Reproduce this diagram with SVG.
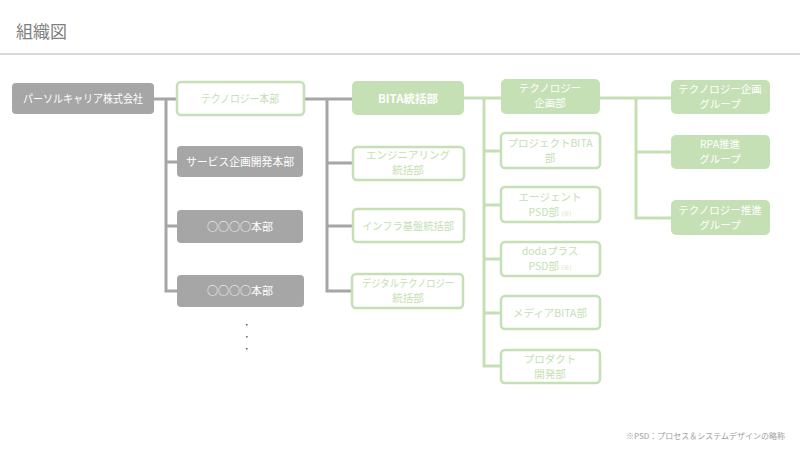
<svg xmlns="http://www.w3.org/2000/svg" width="800" height="450" viewBox="0 0 800 450">
<style>
text{font-family:"Noto Sans CJK JP","Noto Sans",sans-serif;text-anchor:middle}
.g rect{fill:#a6a6a6}
.g text{fill:#ffffff;font-size:11px}
.o rect{fill:#ffffff;stroke:#c5e0b4;stroke-width:2.5}
.o text{fill:#c5e0b4;font-size:10.5px}
.f rect{fill:#c5e0b4}
.f text{fill:#ffffff;font-size:10.5px}
.cg{fill:none;stroke:#a6a6a6;stroke-width:3}
.cn{fill:none;stroke:#c5e0b4;stroke-width:3}
.sm{font-size:6px}
</style>
<rect width="800" height="450" fill="#ffffff"/>
<text x="16" y="38" style="font-size:17px;fill:#7f7f7f;text-anchor:start">組織図</text>
<rect x="0" y="53" width="800" height="2" fill="#d9d9d9"/>

<g id="connectors">
<path class="cg" d="M154 99H177M166 99V291H177M166 162H177M166 226H177"/>
<path class="cg" d="M304 99H352M327 99V291H352M327 163H353M327 226H353"/>
<path class="cn" d="M464 98H501M484 98V366H501M484 151H501M484 205H501M484 259H501M484 313H501"/>
<path class="cn" d="M600 98H671M636 98V218H671M636 152H671"/>
</g>

<g id="n1" class="g"><rect x="12" y="83" width="142" height="31" rx="4"/><text x="83" y="103" textLength="120" lengthAdjust="spacingAndGlyphs">パーソルキャリア株式会社</text></g>
<g id="n2" class="o"><rect x="177" y="82" width="127" height="33" rx="4"/><text x="240" y="103" style="font-size:11px" textLength="78" lengthAdjust="spacingAndGlyphs">テクノロジー本部</text></g>
<g id="n3" class="g"><rect x="177" y="146" width="126" height="31" rx="4"/><text x="240" y="166" textLength="108" lengthAdjust="spacingAndGlyphs">サービス企画開発本部</text></g>
<g id="n4" class="g"><rect x="177" y="210" width="126" height="33" rx="4"/><text x="240" y="231">○○○○本部</text></g>
<g id="n5" class="g"><rect x="177" y="275" width="127" height="32" rx="4"/><text x="240" y="295">○○○○本部</text></g>
<g id="dots" fill="#6b6b8f"><rect x="246" y="324" width="1.6" height="1.6"/><rect x="246" y="336" width="1.6" height="1.6"/><rect x="246" y="348" width="1.6" height="1.6"/></g>

<g id="n6" class="f"><rect x="352" y="81" width="112" height="34" rx="5"/><text x="408" y="103" style="font-weight:bold;font-size:11.5px">BITA統括部</text></g>
<g id="n7" class="o"><rect x="353" y="147" width="111" height="33" rx="4"/><text x="408" y="159">エンジニアリング</text><text x="408" y="174">統括部</text></g>
<g id="n8" class="o"><rect x="353" y="209" width="111" height="33" rx="4"/><text x="408" y="230" textLength="92" lengthAdjust="spacingAndGlyphs">インフラ基盤統括部</text></g>
<g id="n9" class="o"><rect x="352" y="274" width="111" height="34" rx="4"/><text x="408" y="287" textLength="92" lengthAdjust="spacingAndGlyphs">デジタルテクノロジー</text><text x="408" y="302">統括部</text></g>

<g id="n10" class="f"><rect x="501" y="79" width="99" height="35" rx="5"/><text x="550" y="92">テクノロジー</text><text x="550" y="107">企画部</text></g>
<g id="n11" class="o"><rect x="501" y="133" width="99" height="35" rx="4"/><text x="550" y="147">プロジェクトBITA</text><text x="550" y="162">部</text></g>
<g id="n12" class="o"><rect x="501" y="187" width="99" height="35" rx="4"/><text x="550" y="201">エージェント</text><text x="550" y="216">PSD部 <tspan class="sm">(※)</tspan></text></g>
<g id="n13" class="o"><rect x="501" y="242" width="99" height="34" rx="4"/><text x="550" y="255">dodaプラス</text><text x="550" y="270">PSD部 <tspan class="sm">(※)</tspan></text></g>
<g id="n14" class="o"><rect x="501" y="296" width="99" height="33" rx="4"/><text x="550" y="317">メディアBITA部</text></g>
<g id="n15" class="o"><rect x="501" y="350" width="99" height="33" rx="4"/><text x="550" y="363">プロダクト</text><text x="550" y="378">開発部</text></g>

<g id="n16" class="f"><rect x="671" y="80" width="99" height="34" rx="5"/><text x="720" y="93">テクノロジー企画</text><text x="720" y="108">グループ</text></g>
<g id="n17" class="f"><rect x="671" y="135" width="99" height="34" rx="5"/><text x="720" y="148">RPA推進</text><text x="720" y="163">グループ</text></g>
<g id="n18" class="f"><rect x="671" y="200" width="99" height="35" rx="5"/><text x="720" y="214">テクノロジー推進</text><text x="720" y="229">グループ</text></g>

<text x="785" y="439" style="font-size:8px;fill:#a0a0a0;text-anchor:end">※PSD：プロセス＆システムデザインの略称</text>
</svg>
